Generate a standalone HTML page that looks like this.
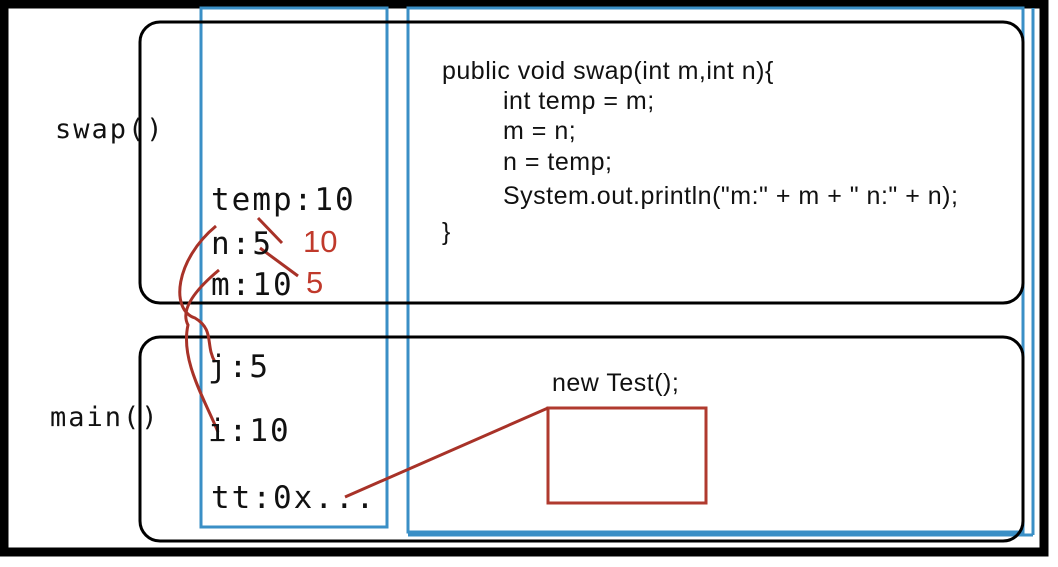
<!DOCTYPE html>
<html><head><meta charset="utf-8"><style>
body{margin:0;background:#fff;}
#c{position:relative;width:1058px;height:567px;overflow:hidden;background:#fff;}
.t{position:absolute;white-space:nowrap;}
.mono{font-family:"DejaVu Sans Mono","Liberation Mono",monospace;color:#111;letter-spacing:2px;}
.code{font-family:"Liberation Sans",sans-serif;font-size:25px;color:#111;letter-spacing:0.5px;}
.red{font-family:"Liberation Sans",sans-serif;color:#c0392b;}
</style></head><body><div id="c">
<svg width="1058" height="567" style="position:absolute;left:0;top:0">
<rect x="4" y="4" width="1040" height="548" fill="none" stroke="#000" stroke-width="9"/>
<rect x="201" y="8" width="186" height="519" fill="none" stroke="#3a8fc6" stroke-width="3"/>
<rect x="408" y="8" width="615" height="524" fill="none" stroke="#3a8fc6" stroke-width="3"/>
<line x1="1033" y1="8" x2="1033" y2="535" stroke="#3a8fc6" stroke-width="3"/>
<line x1="408" y1="535" x2="1033" y2="535" stroke="#3a8fc6" stroke-width="3"/>
<rect x="140" y="22" width="883" height="281" rx="20" fill="none" stroke="#000" stroke-width="3"/>
<rect x="140" y="337" width="883" height="204" rx="20" fill="none" stroke="#000" stroke-width="3"/>
<rect x="548" y="408" width="158" height="95" fill="none" stroke="#b03a2e" stroke-width="3"/>
<g stroke="#a83228" stroke-width="3" fill="none">
<path d="M216 226 C175 260,170 310,195 318 C215 330,205 345,215 362"/>
<path d="M219 270 C195 290,180 310,188 325 C180 360,205 400,218 432"/>
<path d="M345 497 L548 408"/>
<path d="M258 218 L282 243"/>
<path d="M260 248 L298 276"/>
</g>
</svg>
<div class="t mono" style="left:55px;top:114px;font-size:27px">swap()</div>
<div class="t mono" style="left:50px;top:402px;font-size:27px">main()</div>
<div class="t mono" style="left:211px;top:182px;font-size:31px">temp:10</div>
<div class="t mono" style="left:211px;top:226px;font-size:31px">n:5</div>
<div class="t mono" style="left:211px;top:267px;font-size:31px">m:10</div>
<div class="t mono" style="left:208px;top:349px;font-size:31px">j:5</div>
<div class="t mono" style="left:208px;top:413px;font-size:31px">i:10</div>
<div class="t mono" style="left:211px;top:480px;font-size:31px">tt:0x...</div>
<div class="t red" style="left:303px;top:224px;font-size:31px">10</div>
<div class="t red" style="left:306px;top:265px;font-size:31px">5</div>
<div class="t code" style="left:442px;top:57px">public void swap(int m,int n){</div>
<div class="t code" style="left:503px;top:87px">int temp = m;</div>
<div class="t code" style="left:503px;top:117px">m = n;</div>
<div class="t code" style="left:503px;top:148px">n = temp;</div>
<div class="t code" style="left:503px;top:182px">System.out.println("m:" + m + " n:" + n);</div>
<div class="t code" style="left:442px;top:218px">}</div>
<div class="t code" style="left:552px;top:369px">new Test();</div>
</div></body></html>
